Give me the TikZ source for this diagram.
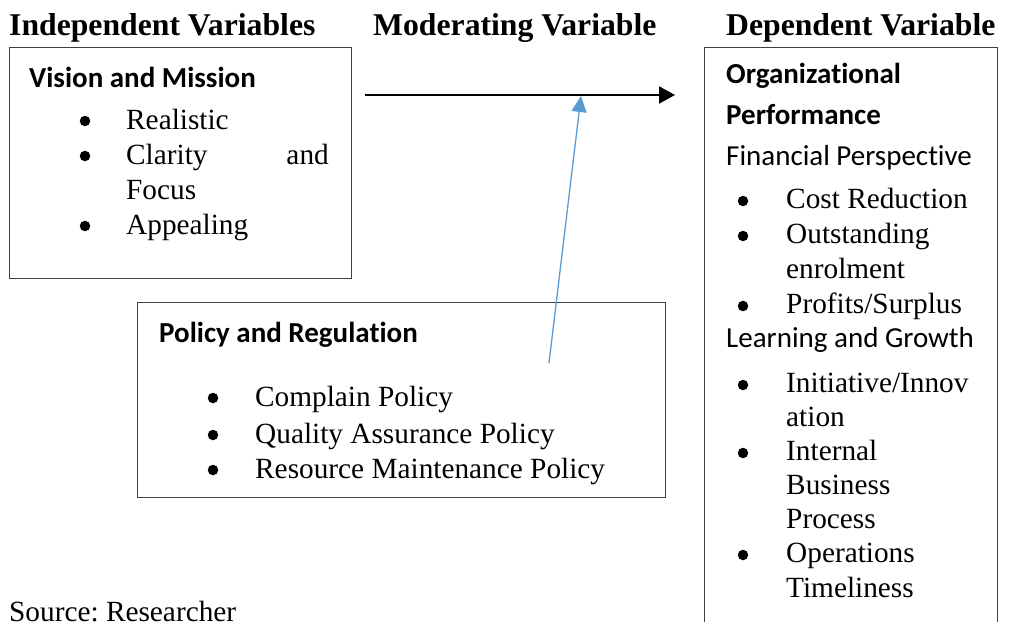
\documentclass[tikz,border=0pt]{standalone}
\usepackage{fontspec}
\setmainfont{Liberation Serif}
\newfontfamily\calibri[Ligatures={NoCommon,NoContextual}]{Carlito}
\usetikzlibrary{arrows.meta}
\definecolor{linkblue}{HTML}{5B9BD5}
\frenchspacing
\begin{document}
\begin{tikzpicture}[x=1pt,y=-1pt,
  txt/.style={anchor=base west,inner sep=0pt,font=\fontsize{29.3}{33}\selectfont},
  txtr/.style={anchor=base east,inner sep=0pt,font=\fontsize{29.3}{33}\selectfont},
  head/.style={anchor=base west,inner sep=0pt,font=\fontsize{31.7}{36}\selectfont\bfseries},
  stitle/.style={anchor=base west,inner sep=0pt,font=\fontsize{29}{33}\selectfont\calibri\bfseries},
  stext/.style={anchor=base west,inner sep=0pt,font=\fontsize{29}{33}\selectfont\calibri},
  bul/.style={circle,fill=black,inner sep=0pt,minimum size=10.5pt},
  frame/.style={draw=black!75,line width=1.1pt,inner sep=0pt}]
\useasboundingbox (0,0) rectangle (1009,621);
\clip (0,0) rectangle (1009,621);

% column headings
\node[head] (hind) at (9,35) {Independent Variables};
\node[head] (hmod) at (373,35) {Moderating Variable};
\node[head] (hdep) at (726,35) {Dependent Variable};

% boxes
\node[frame,minimum width=342pt,minimum height=231pt,anchor=north west] (vm) at (9,47) {};
\node[frame,minimum width=528pt,minimum height=195pt,anchor=north west] (pr) at (137,302) {};
\node[frame,minimum width=293pt,minimum height=620pt,anchor=north west] (op) at (704,47) {};

% Vision and Mission
\node[stitle] (vmt) at (29,87) {Vision and Mission};
\node[bul] (vb1) at (85,121) {};
\node[txt] (vi1) at (126,129) {Realistic};
\node[bul] (vb2) at (85,156) {};
\node[txt] (vi2) at (126,164) {Clarity};
\node[txtr] (vi2b) at (329,164) {and};
\node[txt] (vi2c) at (126,199) {Focus};
\node[bul] (vb3) at (85,226) {};
\node[txt] (vi3) at (126,234) {Appealing};

% Policy and Regulation
\node[stitle] (prt) at (159,342) {Policy and Regulation};
\node[bul] (pb1) at (213,398) {};
\node[txt] (pi1) at (255,406) {Complain Policy};
\node[bul] (pb2) at (213,435) {};
\node[txt] (pi2) at (255,443) {Quality Assurance Policy};
\node[bul] (pb3) at (213,470) {};
\node[txt] (pi3) at (255,478) {Resource Maintenance Policy};

% Organizational Performance
\node[stitle] (opt1) at (726,83) {Organizational};
\node[stitle] (opt2) at (726,124) {Performance};
\node[stext] (ops1) at (726,165) {Financial Perspective};
\node[bul] (ob1) at (743,201) {};
\node[txt] (oi1) at (786,208) {Cost Reduction};
\node[bul] (ob2) at (743,236) {};
\node[txt] (oi2) at (786,243) {Outstanding};
\node[txt] (oi2b) at (786,278) {enrolment};
\node[bul] (ob3) at (743,306) {};
\node[txt] (oi3) at (786,313) {Profits/Surplus};
\node[stext] (ops2) at (726,347) {Learning and Growth};
\node[bul] (ob4) at (743,385) {};
\node[txt] (oi4) at (786,392) {Initiative/Innov};
\node[txt] (oi4b) at (786,426) {ation};
\node[bul] (ob5) at (743,453) {};
\node[txt] (oi5) at (786,460) {Internal};
\node[txt] (oi5b) at (786,494) {Business};
\node[txt] (oi5c) at (786,528) {Process};
\node[bul] (ob6) at (743,555) {};
\node[txt] (oi6) at (786,562) {Operations};
\node[txt] (oi6b) at (786,597) {Timeliness};

% source line, running off the lower edge
\node[txt] (src) at (9,621) {Source: Researcher};

% connectors
\coordinate (a0) at (365,95);
\coordinate (a1) at (675,95);
\coordinate (m0) at (549,363);
\coordinate (m1) at (581,96);
\draw[line width=2pt,-{Triangle[length=16pt,width=17pt]}] (a0) -- (a1);
\draw[linkblue,line width=1.3pt,-{Triangle[length=16pt,width=15pt]}] (m0) -- (m1);
\end{tikzpicture}
\end{document}
